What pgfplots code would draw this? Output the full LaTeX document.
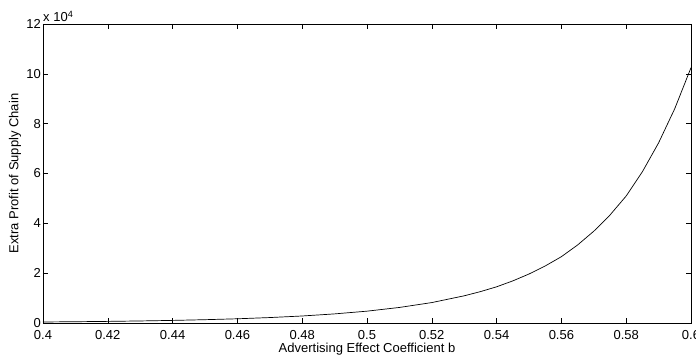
\documentclass[border=0pt]{standalone}
\usepackage{fontspec}
\setmainfont{Liberation Sans}
\usepackage{pgfplots}
\pgfplotsset{compat=1.18}
\begin{document}
\fontsize{13}{15}\selectfont
\begin{tikzpicture}
\begin{axis}[
  scale only axis,
  width=648pt, height=299pt,
  xmin=0.4, xmax=0.6, ymin=0, ymax=12,
  xtick={0.4,0.42,...,0.61},
  xticklabels={0.4,0.42,0.44,0.46,0.48,0.5,0.52,0.54,0.56,0.58,0.6},
  ytick={0,2,...,12},
  scaled y ticks=false,
  tick align=inside,
  major tick length=5pt,
  tick style={black, line width=0.5pt},
  axis line style={black, line width=0.6pt},
  /pgf/number format/assume math mode=true,
  xticklabel style={inner sep=0pt, yshift=-7pt},
  yticklabel style={inner sep=1pt, xshift=-1pt},
  xlabel={Advertising Effect Coefficient b},
  ylabel={Extra Profit of Supply Chain},
  xlabel style={inner sep=0pt, yshift=-3pt},
  ylabel style={inner sep=0pt, yshift=4pt},
  clip=false,
]
\coordinate (bl) at (rel axis cs:0,0);
\coordinate (tr) at (rel axis cs:1,1);
\node[anchor=south west, inner sep=0pt, yshift=2pt] at (rel axis cs:0,1) {x 10\textsuperscript{4}};
\addplot[black, line width=0.7pt] coordinates {
(0.40,0.0405) (0.41,0.0512) (0.42,0.0645) (0.43,0.0818) (0.44,0.104)
(0.45,0.1327) (0.46,0.169) (0.47,0.2183) (0.48,0.281) (0.49,0.3653)
(0.50,0.4747) (0.51,0.6238) (0.52,0.8196) (0.53,1.091) (0.535,1.259)
(0.54,1.452) (0.545,1.690) (0.55,1.966) (0.555,2.288) (0.56,2.662)
(0.565,3.131) (0.57,3.684) (0.575,4.334) (0.58,5.098) (0.585,6.071)
(0.59,7.229) (0.595,8.606) (0.60,10.247)
};
\end{axis}
\pgfresetboundingbox
\path[use as bounding box] ([xshift=-43pt,yshift=-34pt]bl) rectangle ([xshift=5pt,yshift=24pt]tr);
\end{tikzpicture}
\end{document}
